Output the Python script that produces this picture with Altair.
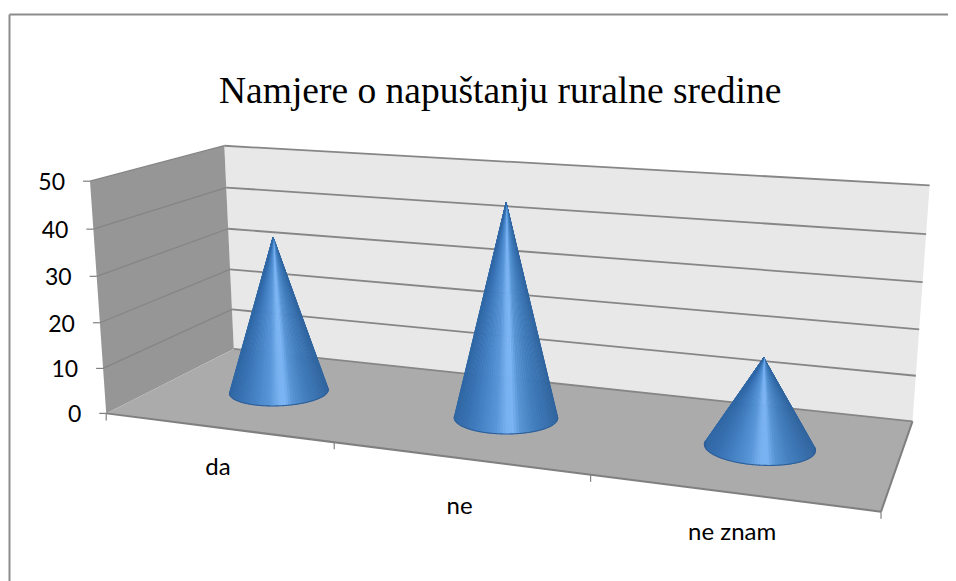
import altair as alt
import numpy as np

title_text = "Namjere o napuštanju ruralne sredine"
categories = ["da", "ne", "ne znam"]
values = [35, 46, 18.5]
axis_ticks = [0, 10, 20, 30, 40, 50]
label_drop = [41, 49, 40]

W, H = 940, 573
CONE_RU, CONE_RD = 0.203, 0.20

# camera calibration: world (category position, depth, value) -> page pixels
calib = [
    ((0, 0, 0), (107, 413)), ((0, 0, 50), (90, 181)), ((0, 1, 0), (233, 349)), ((0, 1, 50), (225, 146)),
    ((3, 1, 0), (913, 421)), ((3, 1, 50), (930, 185)), ((3, 0, 0), (881, 512)),
    ((1, 0, 0), (335, 442)), ((2, 0, 0), (590, 475)),
    ((0, 0, 10), (103, 369)), ((0, 0, 20), (100, 323)), ((0, 0, 30), (96, 276)), ((0, 0, 40), (93, 229)),
    ((3, 1, 10), (916, 376)), ((3, 1, 20), (919, 329)), ((3, 1, 30), (922, 282)), ((3, 1, 40), (926, 235)),
]


def fit_camera(pairs):
    A = []
    for (u, d, z), (px, py) in pairs:
        w = [u, d, z / 50, 1]
        A.append(w + [0, 0, 0, 0] + [-px * c for c in w])
        A.append([0, 0, 0, 0] + w + [-py * c for c in w])
    return np.linalg.svd(np.array(A, float))[2][-1].reshape(3, 4)


CAM = fit_camera(calib)


def proj(u, d, z):
    p = CAM @ np.array([u, d, z / 50, 1.0])
    return float(p[0] / p[2]), float(p[1] / p[2])


def poly_rows(points, **extra):
    """Rows (x, y, y2) for an area mark that fills a convex polygon."""
    pts = list(points)
    xs = sorted({round(p[0], 3) for p in pts})
    rows = []
    n = len(pts)
    for x in xs:
        ys = []
        for i in range(n):
            (x0, y0), (x1, y1) = pts[i], pts[(i + 1) % n]
            lo, hi = min(x0, x1), max(x0, x1)
            if lo - 1e-3 <= x <= hi + 1e-3:
                if abs(x1 - x0) < 1e-6:
                    ys += [y0, y1]
                else:
                    ys.append(y0 + (y1 - y0) * (x - x0) / (x1 - x0))
        rows.append(dict(x=x, y=min(ys), y2=max(ys), **extra))
    return rows


X = alt.X("x:Q", axis=None, scale=alt.Scale(domain=[8, 8 + W], range=[0, W], nice=False, zero=False))
Y = alt.Y("y:Q", axis=None, scale=alt.Scale(domain=[8 + H, 8], range=[H, 0], nice=False, zero=False))


def area(rows, color):
    return alt.Chart(alt.Data(values=rows)).mark_area(color=color, interpolate="linear").encode(
        x=X, y=Y, y2="y2:Q")


def rules(rows, color, width):
    return alt.Chart(alt.Data(values=rows)).mark_rule(color=color, strokeWidth=width).encode(
        x=X, x2="x2:Q", y=Y, y2="y2:Q")


def seg(a, b):
    return dict(x=a[0], y=a[1], x2=b[0], y2=b[1])


# walls and floor
left_wall = [proj(0, 0, 50), proj(0, 1, 50), proj(0, 1, 0), proj(0, 0, 0)]
back_wall = [proj(0, 1, 50), proj(3, 1, 50), proj(3, 1, 0), proj(0, 1, 0)]
floor = [proj(0, 1, 0), proj(3, 1, 0), proj(3, 0, 0), proj(0, 0, 0)]

back_grid = [seg(proj(0, 1, t), proj(3, 1, t)) for t in axis_ticks]
left_grid = [seg(proj(0, 0, t), proj(0, 1, t)) for t in axis_ticks if t > 0]
edges = [seg(proj(0, 0, 0), proj(3, 0, 0)), seg(proj(3, 0, 0), proj(3, 1, 0))]
y_ticks = [dict(x=proj(0, 0, t)[0] - 7, y=proj(0, 0, t)[1], x2=proj(0, 0, t)[0], y2=proj(0, 0, t)[1]) for t in axis_ticks]
x_ticks = [dict(x=proj(u, 0, 0)[0], y=proj(u, 0, 0)[1], x2=proj(u, 0, 0)[0], y2=proj(u, 0, 0)[1] + 7) for u in range(4)]

frame = [dict(x=9.5, y=14.5, x2=8 + W, y2=14.5), dict(x=9.5, y=14.5, x2=9.5, y2=8 + H)]

# cone shading (position across the cone -> colour)
shade_t = [0.0, 0.10, 0.25, 0.40, 0.50, 0.56, 0.64, 0.78, 0.90, 1.0]
shade_c = [(0x30, 0x68, 0xa6), (0x37, 0x71, 0xb3), (0x45, 0x83, 0xc6), (0x58, 0x96, 0xd9), (0x79, 0xb2, 0xf2),
           (0x7c, 0xb5, 0xf6), (0x57, 0x94, 0xd5), (0x42, 0x7e, 0xbe), (0x38, 0x71, 0xaf), (0x30, 0x65, 0xa0)]


def shade(t):
    c = [np.interp(t, shade_t, [s[i] for s in shade_c]) for i in range(3)]
    return "#%02x%02x%02x" % tuple(int(v) for v in c)


cone_rows, rim_rows = [], []
for k, v in enumerate(values):
    uc = k + 0.5
    tip = proj(uc, 0.5, v)
    ang = np.linspace(0, 2 * np.pi, 361)[:-1]
    rim = [proj(uc + CONE_RU * np.cos(a), 0.5 + CONE_RD * np.sin(a), 0) for a in ang]
    bearings = [np.arctan2(p[0] - tip[0], p[1] - tip[1]) for p in rim]
    i0, i1 = int(np.argmax(bearings)), int(np.argmin(bearings))
    idx = []
    i = i0
    step = 1 if np.sin(ang[(i0 + 1) % 360]) < np.sin(ang[i0]) or np.sin(ang[i0]) < 0 else -1
    while i != i1:
        idx.append(i)
        i = (i + step) % 360
    idx.append(i1)
    arc = [rim[j] for j in idx]
    xa = [p[0] for p in arc]
    xl, xr = min(xa), max(xa)
    for s in range(0, len(arc) - 3, 3):
        a, b = arc[s], arc[min(s + 3, len(arc) - 1)]
        t = ((a[0] + b[0]) / 2 - xl) / (xr - xl)
        col = shade(t)
        cone_rows += poly_rows([tip, a, b], c=col, s=f"{k}-{s}")
    rim_rows += [dict(x=p[0], y=p[1], k=k) for p in sorted(arc)]

cones = alt.Chart(alt.Data(values=cone_rows)).mark_area(strokeWidth=0.7, interpolate="linear").encode(
    x=X, y=Y, y2="y2:Q",
    color=alt.Color("c:N", scale=None, legend=None),
    stroke=alt.Stroke("c:N", scale=None, legend=None),
    detail="s:N",
)
rims = alt.Chart(alt.Data(values=rim_rows)).mark_line(color="#2e5f98", strokeWidth=1.1).encode(
    x=X, y=Y, detail="k:N")

# text
y_text_rows = [dict(x=proj(0, 0, t)[0] - 25, y=proj(0, 0, t)[1] + 2, t=str(t)) for t in axis_ticks]
y_text = alt.Chart(alt.Data(values=y_text_rows)).mark_text(
    font="Lato", fontSize=23, align="right", baseline="middle", color="#000000").encode(x=X, y=Y, text="t:N")
x_text_rows = [dict(x=proj(i + 0.5, 0, 0)[0] + 1, y=proj(i + 0.5, 0, 0)[1] + drop, t=c)
               for i, (drop, c) in enumerate(zip(label_drop, categories))]
x_text = alt.Chart(alt.Data(values=x_text_rows)).mark_text(
    font="Lato", fontSize=24, align="center", baseline="middle", color="#000000").encode(x=X, y=Y, text="t:N")

chart = alt.layer(
    rules(frame, "#8c8c8c", 2),
    area(poly_rows(back_wall), "#e8e8e8"),
    area(poly_rows(left_wall), "#969696"),
    area(poly_rows(floor), "#ababab"),
    rules(left_grid, "#858585", 1.3),
    rules(back_grid, "#868686", 1.8),
    rules(edges, "#7f7f7f", 2),
    rules(y_ticks + x_ticks, "#808080", 1.2),
    cones, rims, y_text, x_text,
).properties(
    width=W, height=H, padding=0,
    autosize=alt.AutoSizeParams(type="none"),
    title=alt.TitleParams(title_text, font="Liberation Serif", fontSize=37.5, fontWeight="normal",
                          color="#000000", anchor="start", dx=211, dy=102, offset=0),
).configure_view(stroke=None)

chart.save("out.html", embed_options={"renderer": "svg", "actions": False})
